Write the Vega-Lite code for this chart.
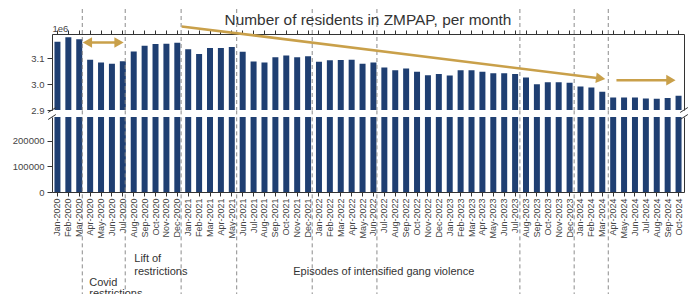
{
  "$schema": "https://vega.github.io/schema/vega-lite/v6.json",
  "padding": {"left": 12, "top": 8, "right": 0, "bottom": 0},
  "spacing": 7,
  "bounds": "flush",
  "title": {"text": "Number of residents in ZMPAP, per month", "fontSize": 15.4, "fontWeight": "normal", "color": "#333333", "font": "Liberation Sans", "anchor": "middle", "frame": "group", "offset": -20},
  "config": {
    "font": "Liberation Sans",
    "view": {"stroke": null},
    "axis": {"labelFont": "Liberation Sans", "labelColor": "#444444", "domainColor": "#333333", "tickColor": "#333333", "grid": false, "titleFont": "Liberation Sans"}
  },
  "datasets": {
    "months": [
      {"month": "Jan-2020", "residents": 3165000},
      {"month": "Feb-2020", "residents": 3182000},
      {"month": "Mar-2020", "residents": 3175000},
      {"month": "Apr-2020", "residents": 3095000},
      {"month": "May-2020", "residents": 3084000},
      {"month": "Jun-2020", "residents": 3080000},
      {"month": "Jul-2020", "residents": 3089000},
      {"month": "Aug-2020", "residents": 3127000},
      {"month": "Sep-2020", "residents": 3149000},
      {"month": "Oct-2020", "residents": 3156000},
      {"month": "Nov-2020", "residents": 3157000},
      {"month": "Dec-2020", "residents": 3161000},
      {"month": "Jan-2021", "residents": 3136000},
      {"month": "Feb-2021", "residents": 3117000},
      {"month": "Mar-2021", "residents": 3141000},
      {"month": "Apr-2021", "residents": 3141000},
      {"month": "May-2021", "residents": 3145000},
      {"month": "Jun-2021", "residents": 3126000},
      {"month": "Jul-2021", "residents": 3088000},
      {"month": "Aug-2021", "residents": 3084000},
      {"month": "Sep-2021", "residents": 3105000},
      {"month": "Oct-2021", "residents": 3112000},
      {"month": "Nov-2021", "residents": 3105000},
      {"month": "Dec-2021", "residents": 3109000},
      {"month": "Jan-2022", "residents": 3087000},
      {"month": "Feb-2022", "residents": 3093000},
      {"month": "Mar-2022", "residents": 3094000},
      {"month": "Apr-2022", "residents": 3095000},
      {"month": "May-2022", "residents": 3080000},
      {"month": "Jun-2022", "residents": 3084000},
      {"month": "Jul-2022", "residents": 3065000},
      {"month": "Aug-2022", "residents": 3054000},
      {"month": "Sep-2022", "residents": 3061000},
      {"month": "Oct-2022", "residents": 3048000},
      {"month": "Nov-2022", "residents": 3035000},
      {"month": "Dec-2022", "residents": 3040000},
      {"month": "Jan-2023", "residents": 3034000},
      {"month": "Feb-2023", "residents": 3054000},
      {"month": "Mar-2023", "residents": 3054000},
      {"month": "Apr-2023", "residents": 3048000},
      {"month": "May-2023", "residents": 3043000},
      {"month": "Jun-2023", "residents": 3043000},
      {"month": "Jul-2023", "residents": 3040000},
      {"month": "Aug-2023", "residents": 3026000},
      {"month": "Sep-2023", "residents": 3000000},
      {"month": "Oct-2023", "residents": 3008000},
      {"month": "Nov-2023", "residents": 3008000},
      {"month": "Dec-2023", "residents": 3006000},
      {"month": "Jan-2024", "residents": 2991000},
      {"month": "Feb-2024", "residents": 2987000},
      {"month": "Mar-2024", "residents": 2971000},
      {"month": "Apr-2024", "residents": 2949000},
      {"month": "May-2024", "residents": 2949000},
      {"month": "Jun-2024", "residents": 2949000},
      {"month": "Jul-2024", "residents": 2945000},
      {"month": "Aug-2024", "residents": 2944000},
      {"month": "Sep-2024", "residents": 2947000},
      {"month": "Oct-2024", "residents": 2955000}
    ],
    "events": [
      {"pos": 2.28}, {"pos": 6.22}, {"pos": 11.35}, {"pos": 16.45}, {"pos": 23.38},
      {"pos": 29.32}, {"pos": 42.44}, {"pos": 47.42}, {"pos": 50.55}
    ],
    "arrowLines": [
      {"x1": 2.6, "x2": 5.8, "y1": 3162000, "y2": 3162000},
      {"x1": 11.4, "x2": 49.7, "y1": 3224500, "y2": 3023500},
      {"x1": 51.3, "x2": 56.0, "y1": 3015600, "y2": 3015600}
    ],
    "arrowHeads": [
      {"pos": 2.75, "val": 3162000, "shape": "triangle-left", "angle": 0},
      {"pos": 5.65, "val": 3162000, "shape": "triangle-right", "angle": 0},
      {"pos": 49.85, "val": 3022800, "shape": "triangle-right", "angle": 7},
      {"pos": 56.3, "val": 3015600, "shape": "triangle-right", "angle": 0}
    ],
    "topBreaks": [
      {"x1": -0.85, "x2": -0.15, "y1": 2890300, "y2": 2909700},
      {"x1": 57.15, "x2": 57.85, "y1": 2890300, "y2": 2909700}
    ],
    "bottomBreaks": [
      {"x1": -0.85, "x2": -0.15, "y1": 284200, "y2": 303800},
      {"x1": 57.15, "x2": 57.85, "y1": 284200, "y2": 303800}
    ],
    "notes": [
      {"pos": 7.05, "val": -261400, "note": "Lift of"},
      {"pos": 7.05, "val": -313600, "note": "restrictions"},
      {"pos": 2.92, "val": -355500, "note": "Covid"},
      {"pos": 2.92, "val": -399800, "note": "restrictions"},
      {"pos": 21.64, "val": -313600, "note": "Episodes of intensified gang violence"}
    ]
  },
  "vconcat": [
    {
      "width": 632,
      "height": 76,
      "layer": [
        {
          "data": {"name": "months"},
          "mark": {"type": "bar", "color": "#1F3F72", "clip": true},
          "encoding": {
            "x": {"field": "month", "type": "ordinal", "sort": null,
                  "scale": {"paddingInner": 0.45, "paddingOuter": 0.225},
                  "axis": {"orient": "top", "labels": false, "ticks": true, "tickSize": 4, "title": null}},
            "y": {"field": "residents", "type": "quantitative",
                  "scale": {"domain": [2900000, 3195000], "nice": false, "zero": false},
                  "axis": {"values": [2900000, 3000000, 3100000], "labelExpr": "format(datum.value / 1000000, '.1f')",
                           "labelFontSize": 9.5, "tickSize": 5, "labelPadding": 3, "domain": true,
                           "title": "1e6", "titleAngle": 0, "titleFontSize": 9.5, "titleFontWeight": "normal", "titleColor": "#444444",
                           "titleAlign": "left", "titleBaseline": "bottom", "titleX": 0, "titleY": -1}}
          }
        },
        {
          "layer": [
            {
              "data": {"name": "events"},
              "mark": {"type": "rule", "color": "#8C8C8C", "strokeDash": [4, 3], "strokeWidth": 1},
              "encoding": {
                "x": {"field": "pos", "type": "quantitative", "scale": {"domain": [-0.5, 57.5], "nice": false, "zero": false}, "axis": null},
                "y": {"datum": 3292000, "type": "quantitative",
                      "axis": {"orient": "right", "labels": false, "ticks": false, "title": null, "domain": true}},
                "y2": {"datum": 2900000}
              }
            },
            {
              "data": {"name": "topBreaks"},
              "mark": {"type": "rule", "color": "#333333", "strokeWidth": 1},
              "encoding": {
                "x": {"field": "x1", "type": "quantitative", "axis": null},
                "x2": {"field": "x2"},
                "y": {"field": "y1", "type": "quantitative",
                      "axis": {"orient": "right", "labels": false, "ticks": false, "title": null, "domain": true}},
                "y2": {"field": "y2"}
              }
            },
            {
              "data": {"name": "arrowLines"},
              "mark": {"type": "rule", "color": "#C9A04A", "strokeWidth": 2.5},
              "encoding": {
                "x": {"field": "x1", "type": "quantitative", "axis": null},
                "x2": {"field": "x2"},
                "y": {"field": "y1", "type": "quantitative",
                      "axis": {"orient": "right", "labels": false, "ticks": false, "title": null, "domain": true}},
                "y2": {"field": "y2"}
              }
            },
            {
              "data": {"name": "arrowHeads"},
              "mark": {"type": "point", "filled": true, "color": "#C9A04A", "opacity": 1, "size": 115},
              "encoding": {
                "x": {"field": "pos", "type": "quantitative", "axis": null},
                "y": {"field": "val", "type": "quantitative",
                      "axis": {"orient": "right", "labels": false, "ticks": false, "title": null, "domain": true}},
                "shape": {"field": "shape", "type": "nominal", "scale": null, "legend": null},
                "angle": {"field": "angle", "type": "quantitative", "scale": null}
              }
            }
          ]
        }
      ],
      "resolve": {"scale": {"x": "independent"}, "axis": {"y": "independent"}}
    },
    {
      "width": 632,
      "height": 75,
      "layer": [
        {
          "data": {"name": "months"},
          "mark": {"type": "bar", "color": "#1F3F72", "clip": true},
          "encoding": {
            "x": {"field": "month", "type": "ordinal", "sort": null,
                  "scale": {"paddingInner": 0.45, "paddingOuter": 0.225},
                  "axis": {"orient": "bottom", "labelAngle": -90, "labelFontSize": 9, "tickSize": 4, "labelPadding": 2, "title": null}},
            "y": {"field": "residents", "type": "quantitative",
                  "scale": {"domain": [0, 294000], "nice": false},
                  "axis": {"values": [0, 100000, 200000], "format": "d", "labelFontSize": 9.5, "tickSize": 5, "labelPadding": 3, "title": null}}
          }
        },
        {
          "layer": [
            {
              "data": {"name": "events"},
              "mark": {"type": "rule", "color": "#8C8C8C", "strokeDash": [4, 3], "strokeWidth": 1},
              "encoding": {
                "x": {"field": "pos", "type": "quantitative", "scale": {"domain": [-0.5, 57.5], "nice": false, "zero": false}, "axis": null},
                "y": {"datum": 320000, "type": "quantitative",
                      "axis": {"orient": "right", "labels": false, "ticks": false, "title": null, "domain": true}},
                "y2": {"datum": -420000}
              }
            },
            {
              "data": {"name": "bottomBreaks"},
              "mark": {"type": "rule", "color": "#333333", "strokeWidth": 1},
              "encoding": {
                "x": {"field": "x1", "type": "quantitative", "axis": null},
                "x2": {"field": "x2"},
                "y": {"field": "y1", "type": "quantitative",
                      "axis": {"orient": "right", "labels": false, "ticks": false, "title": null, "domain": true}},
                "y2": {"field": "y2"}
              }
            },
            {
              "data": {"name": "notes"},
              "mark": {"type": "text", "align": "left", "baseline": "middle", "fontSize": 11, "color": "#333333", "font": "Liberation Sans"},
              "encoding": {
                "x": {"field": "pos", "type": "quantitative", "axis": null},
                "y": {"field": "val", "type": "quantitative",
                      "axis": {"orient": "right", "labels": false, "ticks": false, "title": null, "domain": true}},
                "text": {"field": "note"}
              }
            }
          ]
        }
      ],
      "resolve": {"scale": {"x": "independent"}, "axis": {"y": "independent"}}
    }
  ]
}
